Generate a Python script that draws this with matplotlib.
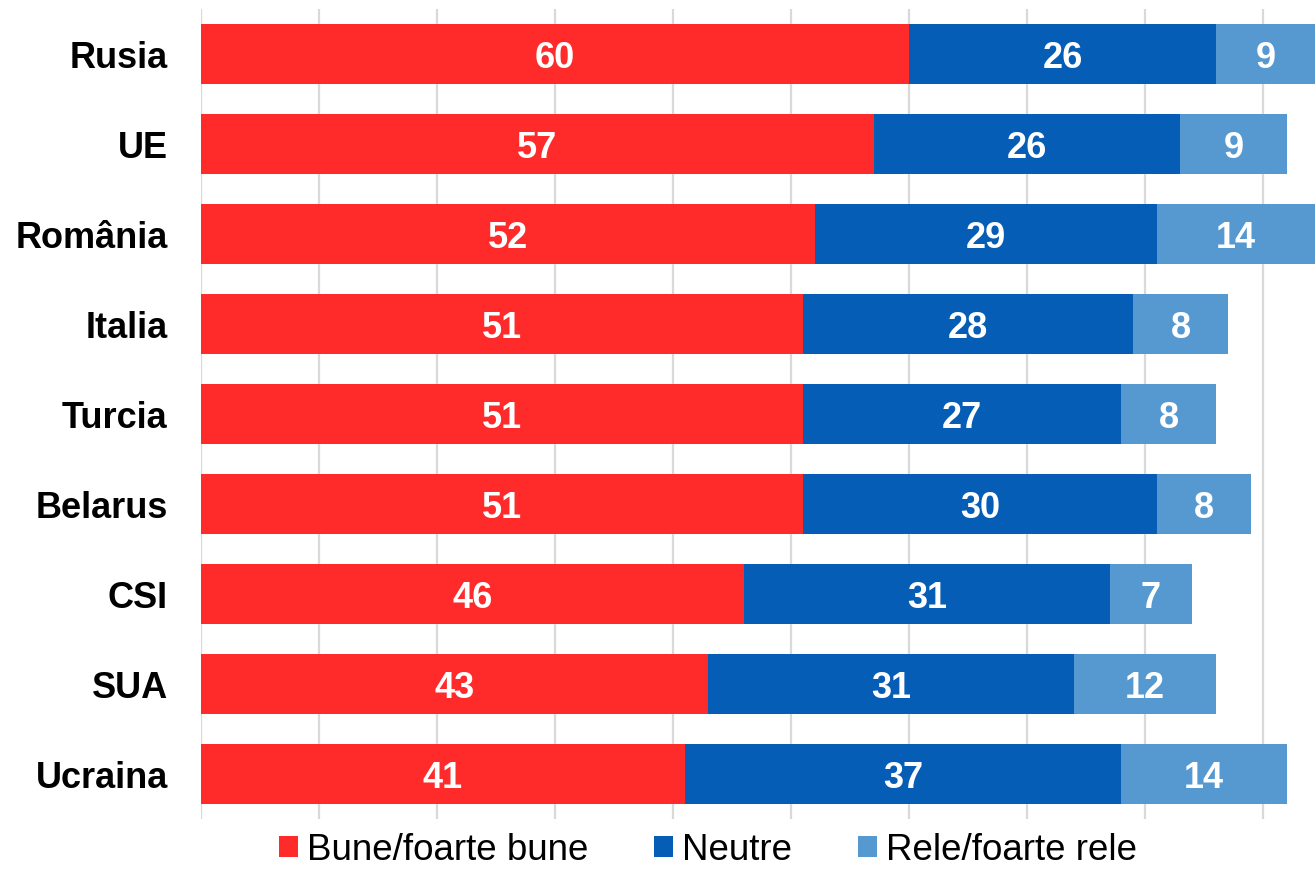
import numpy as np
import matplotlib.pyplot as plt
from matplotlib.patches import Patch

plt.rcParams['font.family'] = ['Liberation Sans', 'DejaVu Sans']

countries = ["Rusia", "UE", "România", "Italia", "Turcia", "Belarus", "CSI", "SUA", "Ucraina"]
bune = [60, 57, 52, 51, 51, 51, 46, 43, 41]
neutre = [26, 26, 29, 28, 27, 30, 31, 31, 37]
rele = [9, 9, 14, 8, 8, 8, 7, 12, 14]
series_names = ["Bune/foarte bune", "Neutre", "Rele/foarte rele"]
colors = ["#FF2A2A", "#065DB5", "#5698D0"]

x_max = 94.4

fig = plt.figure(figsize=(13.15, 8.7), dpi=100)
ax = fig.add_axes([201 / 1315, 50 / 870, 1 - 201 / 1315, 810 / 870])

y = np.arange(len(countries))
left = np.zeros(len(countries))
for vals, col in zip([bune, neutre, rele], colors):
    vals = np.array(vals, dtype=float)
    ax.barh(y, vals, left=left, height=0.667, color=col, zorder=3)
    for yi, l, v in zip(y, left, vals):
        # center label on the visible part of the segment
        end = min(l + v, x_max)
        ax.text((l + end) / 2, yi, f"{int(v)}", ha="center", va="center_baseline",
                color="white", fontsize=26, fontweight="bold", zorder=4)
    left += vals

ax.set_xlim(0, x_max)
ax.set_ylim(len(countries) - 0.5, -0.5)
ax.set_xticks(np.arange(0, 100, 10))
ax.set_xticklabels([])
ax.tick_params(axis="x", length=0)
ax.tick_params(axis="y", length=0, pad=24)
ax.set_yticks(y)
ax.set_yticklabels(countries, fontsize=26, fontweight="bold", va="center_baseline")
ax.grid(axis="x", color="#D9D9D9", linewidth=1.6, zorder=0)
for s in ax.spines.values():
    s.set_visible(False)

handles = [Patch(facecolor=c, label=n) for c, n in zip(colors, series_names)]
fig.legend(handles=handles, loc="center", bbox_to_anchor=(708 / 1315, 1 - 851 / 870),
           ncol=3, frameon=False, fontsize=26.5, handlelength=0.5, handleheight=0.5,
           handletextpad=0.25, columnspacing=1.8, borderpad=0)

fig.savefig("out.png", dpi=100)
